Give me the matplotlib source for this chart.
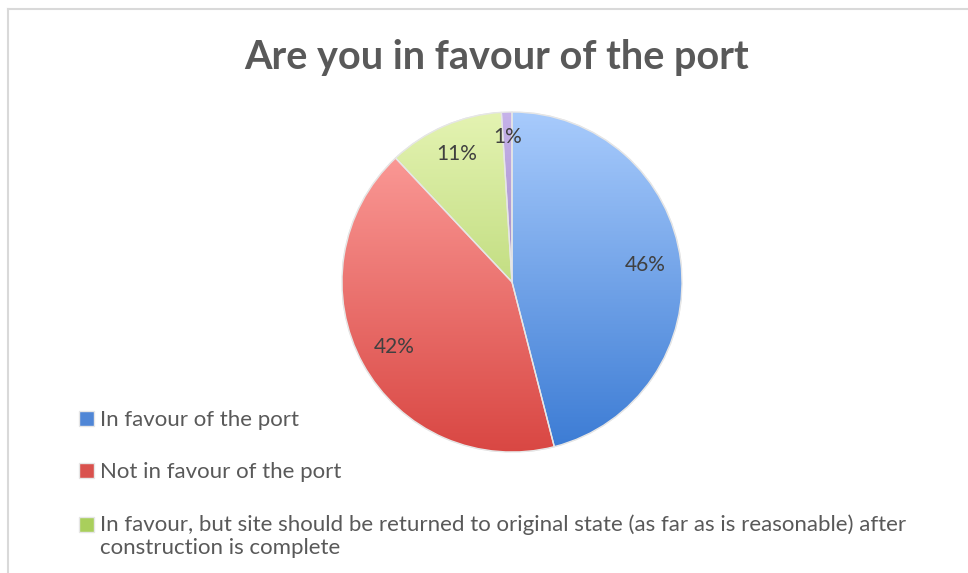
import matplotlib.pyplot as plt
import numpy as np
from matplotlib.colors import LinearSegmentedColormap
from matplotlib.lines import Line2D
from matplotlib.patches import Wedge, Rectangle
from matplotlib.legend_handler import HandlerPatch

# 데이터
labels = ['In favour of the port',
          'Not in favour of the port',
          'In favour, but site should be returned to original state (as far as is reasonable) after\nconstruction is complete']
values = [46, 42, 11, 1]

# 색 (위쪽 밝은색, 아래쪽 진한색)
top_colors = ['#a8cbfc', '#ffa4a1', '#e4f3b2', '#c6b3ea']
bottom_colors = ['#3b7bd4', '#d94743', '#a2c953', '#7e62a0']
mid_colors = ['#4f86d6', '#d9514d', '#a9cf5c', '#8a70b0']

plt.rcParams['font.family'] = ['Lato', 'DejaVu Sans']

fig = plt.figure(figsize=(9.68, 5.73), dpi=100)
W, H = 968, 573

# 파이 차트 영역 (중심 512,282 / 반지름 170px)
ax = fig.add_axes([342 / W, 1 - 452 / H, 340 / W, 340 / H])
wedges, texts, autotexts = ax.pie(values, startangle=90, counterclock=False,
                                  colors=mid_colors, autopct='%1.0f%%', pctdistance=0.79,
                                  wedgeprops=dict(edgecolor='#e6e6e6', linewidth=1.0),
                                  textprops=dict(fontsize=15, color='#404040'))
ax.set_xlim(-1, 1)
ax.set_ylim(-1, 1)
ax.set_aspect('equal')
ax.axis('off')

# 그라데이션 채우기
grad = np.linspace(1, 0, 256).reshape(-1, 1)
for w, c1, c2 in zip(wedges, top_colors, bottom_colors):
    cmap = LinearSegmentedColormap.from_list('g', [c2, c1])
    im = ax.imshow(grad, cmap=cmap, extent=(-1, 1, -1, 1), aspect='auto',
                   zorder=w.get_zorder() + 0.1, vmin=0, vmax=1)
    im.set_clip_path(w)
# 조각 경계선
for w in wedges:
    ax.add_patch(Wedge(w.center, w.r, w.theta1, w.theta2, facecolor='none',
                       edgecolor='#e6e6e6', linewidth=1.0, zorder=3))

# 작은 조각 라벨 위치 조정
for t, k in zip(autotexts, [1.0, 1.0, 1.04, 1.08]):
    x, y = t.get_position()
    t.set_position((x * k, y * k))
    t.set_zorder(5)

# 제목
fig.text(497 / W, 1 - 57 / H, 'Are you in favour of the port', ha='center', va='center',
         fontsize=28.5, fontweight='bold', color='#595959')


# 두 줄짜리 항목은 첫 줄에 맞춤
def top_line_patch(legend, orig_handle, xdescent, ydescent, width, height, fontsize):
    return Rectangle((-xdescent, -ydescent + 8.5), width, height)


# 범례
leg = fig.legend(wedges[:3], labels, loc='upper left', bbox_to_anchor=(68 / W, 1 - 399 / H),
                 frameon=False, fontsize=16, labelcolor='#595959', labelspacing=1.45,
                 handlelength=0.65, handleheight=0.65, handletextpad=0.3, borderpad=0,
                 handler_map={wedges[2]: HandlerPatch(patch_func=top_line_patch)})
for t in leg.get_texts():
    t.set_linespacing(1.15)

# 테두리
fig.add_artist(Line2D([8 / W, 1], [1 - 9 / H, 1 - 9 / H], color='#d9d9d9', linewidth=1.5))
fig.add_artist(Line2D([8 / W, 8 / W], [0, 1 - 9 / H], color='#d9d9d9', linewidth=1.5))

plt.savefig('out.png', dpi=100)
